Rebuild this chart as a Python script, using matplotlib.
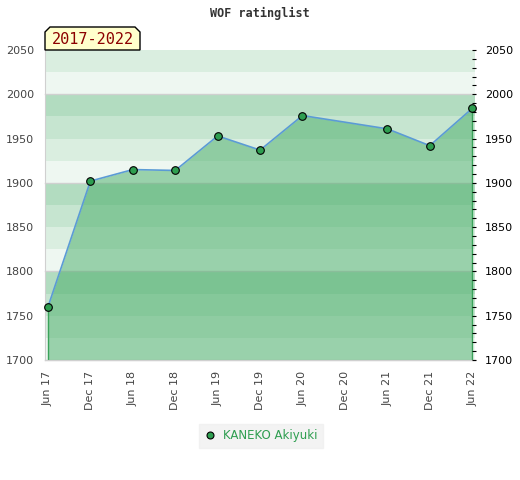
import matplotlib
matplotlib.use("Agg")
from matplotlib import pyplot as plt
from matplotlib.patches import Polygon
from matplotlib.lines import Line2D
import numpy as np

# data (months after Jun 2017)
months = [0, 6, 12, 18, 24, 30, 36, 48, 54, 60]
ratings = [1760, 1902, 1915, 1914, 1953, 1937, 1976, 1961, 1942, 1984]
tick_months = [0, 6, 12, 18, 24, 30, 36, 42, 48, 54, 60]
tick_labels = ["Jun 17", "Dec 17", "Jun 18", "Dec 18", "Jun 19", "Dec 19",
               "Jun 20", "Dec 20", "Jun 21", "Dec 21", "Jun 22"]
player = "KANEKO Akiyuki"
period = "2017-2022"

band_colors = {75: "#b2dcc0", 50: "#c6e5d0", 25: "#daeee0", 0: "#eef7f1"}

fig = plt.figure(figsize=(5.2, 4.8), dpi=100)
ax = fig.add_axes([45/520, 1-360/480, 430/520, 310/480])
ax.set_xlim(-0.42, 60.4)
ax.set_ylim(1700, 2050)

for b in range(1700, 2050, 25):
    ax.axhspan(b, b+25, color=band_colors[b % 100], lw=0, zorder=0)
for g in range(1700, 2051, 100):
    ax.axhline(g, color="#d0d0d0", lw=1, zorder=0.5, clip_on=False)

ax.fill_between(months, ratings, 1700, color="#46ac66", alpha=0.5, lw=0, zorder=1)
ax.plot([months[0], months[0]], [1700, ratings[0]], color="#3aa35a", lw=1, zorder=2)
ax.plot([months[-1], months[-1]], [1700, ratings[-1]], color="#3aa35a", lw=1, zorder=2)
ax.plot(months, ratings, color="#5b9bd5", lw=1.2, zorder=3)
ax.plot(months, ratings, ls="none", marker="o", ms=5.5, mfc="#2e9e50",
        mec="black", mew=0.8, zorder=4, clip_on=False)

ax.set_xticks(tick_months)
ax.set_xticklabels(tick_labels, rotation=90, color="#444444", fontsize=8)
ax.tick_params(axis="x", length=0, pad=8)
ax.set_yticks(range(1700, 2051, 50))
ax.tick_params(axis="y", length=0, labelsize=8, labelcolor="#444444", pad=8)
for s in ["top", "right"]:
    ax.spines[s].set_visible(False)
for s in ["left", "bottom"]:
    ax.spines[s].set_color("#d0d0d0")

ax2 = ax.twinx()
ax2.set_ylim(1700, 2050)
ax2.set_yticks(range(1700, 2051, 50))
ax2.set_yticks(range(1700, 2051, 10), minor=True)
ax2.spines["right"].set_position(("data", 60))
ax2.tick_params(axis="y", which="both", length=3, width=0.8, color="black",
                labelsize=8, labelcolor="black", pad=6)
for s in ["top", "left", "bottom"]:
    ax2.spines[s].set_visible(False)
ax2.spines["right"].set_color("none")

fig.text(0.5, 1-13/480, "WOF ratinglist", ha="center", va="center",
         fontsize=8.5, family="DejaVu Sans Mono", fontweight="bold", color="#333333")

# period label box with chamfered top corners
x0, x1, y0, y1, c = 45, 140, 50, 27, 5
pts = [(x0, y0), (x0, y1+c), (x0+c, y1), (x1-c, y1), (x1, y1+c), (x1, y0)]
pts = [(px/520, 1-py/480) for px, py in pts]
fig.patches.append(Polygon(pts, closed=True, facecolor="#ffffcc", edgecolor="black",
                           lw=1, transform=fig.transFigure, figure=fig))
fig.text((x0+x1)/2/520, 1-40/480, period, ha="center", va="center",
         fontsize=11, family="DejaVu Sans Mono", color="#8b0000")

handle = Line2D([], [], ls="none", marker="o", ms=5, mfc="#2e9e50", mec="black", mew=0.8)
leg = fig.legend([handle], [player], loc="center", bbox_to_anchor=(261/520, 1-436/480),
                 frameon=True, fontsize=8.5, handlelength=1, handletextpad=0.6,
                 borderpad=0.45, fancybox=False)
leg.get_frame().set_facecolor("#f0f0f0")
leg.get_frame().set_edgecolor("#f0f0f0")
for t in leg.get_texts():
    t.set_color("#2e9e50")

fig.savefig("out.png", dpi=100)
